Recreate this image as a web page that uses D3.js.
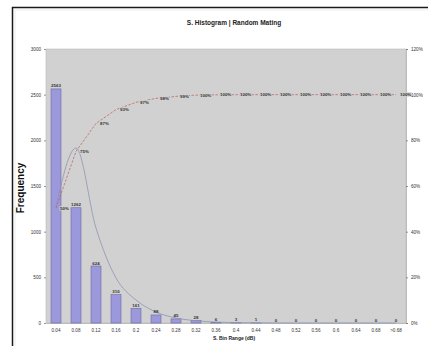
<!DOCTYPE html>
<html><head><meta charset="utf-8">
<script src="https://cdn.jsdelivr.net/npm/d3@7"></script>
<style>
body{margin:0;background:#fff;}
svg{font-family:Arial,"Liberation Sans",sans-serif;display:block;}
</style>
</head><body>
<svg id="chart" width="428" height="346"></svg>
<script>
const categories = ["0.04","0.08","0.12","0.16","0.2","0.24","0.28","0.32","0.36","0.4","0.44","0.48","0.52","0.56","0.6","0.64","0.68",">0.68"];
const frequencies = [2563,1262,624,310,161,88,45,28,6,3,1,0,0,0,0,0,0,0];
const trendValues = [1270,1916,1040,493,252,120,55,25,10,4,2,1,0,0,0,0,0,0];
const leftTicks = [0,500,1000,1500,2000,2500,3000];
const rightTicks = [0,0.2,0.4,0.6,0.8,1.0,1.2];
const titleText = "S. Histogram | Random Mating";
const xTitle = "S. Bin Range (dB)";
const yTitle = "Frequency";

const total = d3.sum(frequencies);
const cumulative = d3.cumsum(frequencies).map(v => v / total);

const svg = d3.select("#chart");
const plot = {left:46, right:406, top:49, bottom:323};

// frame
svg.append("rect").attr("x",12.5).attr("y",7.5).attr("width",440).attr("height",360)
  .attr("fill","#fff").attr("stroke","#1a1a1a").attr("stroke-width",1.5);
svg.append("rect").attr("x",15).attr("y",10).attr("width",440).attr("height",360)
  .attr("fill","none").attr("stroke","#eeeeee").attr("stroke-width",1);

const x = d3.scaleBand().domain(categories).range([plot.left, plot.right]).paddingInner(0.5).paddingOuter(0.25);
const y = d3.scaleLinear().domain([0,3000]).range([plot.bottom, plot.top]);
const y2 = d3.scaleLinear().domain([0,1.2]).range([plot.bottom, plot.top]);

// plot area
svg.append("rect").attr("x",plot.left).attr("y",plot.top)
  .attr("width",plot.right-plot.left).attr("height",plot.bottom-plot.top)
  .attr("fill","#d1d1d1").attr("stroke","#bdbdbd").attr("stroke-width",0.6);

// axes
const gl = svg.append("g").attr("transform",`translate(${plot.left},0)`)
  .call(d3.axisLeft(y).tickValues(leftTicks).tickSize(2).tickPadding(3).tickFormat(d3.format("d")));
const gr = svg.append("g").attr("transform",`translate(${plot.right},0)`)
  .call(d3.axisRight(y2).tickValues(rightTicks).tickSize(2).tickPadding(3).tickFormat(d3.format(".0%")));
const gx = svg.append("g").attr("transform",`translate(0,${plot.bottom})`)
  .call(d3.axisBottom(x).tickSize(0).tickPadding(6));
[gl,gr,gx].forEach(g=>{
  g.select(".domain").attr("stroke","#9a9a9a").attr("stroke-width",0.6);
  g.selectAll(".tick line").attr("stroke","#555").attr("stroke-width",0.6);
  g.selectAll("text").attr("font-size",4.6).attr("fill","#333");
});
gl.select(".domain").remove();

// bars
svg.append("g").selectAll("rect").data(frequencies).join("rect")
  .attr("x",(d,i)=>x(categories[i]))
  .attr("y",d=>y(d))
  .attr("width",x.bandwidth())
  .attr("height",d=>plot.bottom-y(d))
  .attr("fill","#9c98dc").attr("stroke","#6e6aa8").attr("stroke-width",0.6);

// trend line
const trendLine = d3.line().x((d,i)=>x(categories[i])+x.bandwidth()/2).y(d=>y(d)).curve(d3.curveMonotoneX);
svg.append("path").datum(trendValues).attr("d",trendLine)
  .attr("fill","none").attr("stroke","#8e94b4").attr("stroke-width",0.8);

// cumulative line
const cumLine = d3.line().x((d,i)=>x(categories[i])+x.bandwidth()/2).y(d=>y2(d));
svg.append("path").datum(cumulative).attr("d",cumLine)
  .attr("fill","none").attr("stroke","#b85a5a").attr("stroke-width",0.7).attr("stroke-dasharray","2.5,1.5");

// bar labels
svg.append("g").selectAll("text").data(frequencies).join("text")
  .attr("x",(d,i)=>x(categories[i])+x.bandwidth()/2)
  .attr("y",d=>y(d)-1.5)
  .attr("text-anchor","middle").attr("font-size",4.4).attr("font-weight","bold").attr("fill","#333")
  .text(d=>d);

// cumulative labels
svg.append("g").selectAll("text").data(cumulative).join("text")
  .attr("x",(d,i)=>x(categories[i])+x.bandwidth()/2+4)
  .attr("y",d=>y2(d)+1.6)
  .attr("font-size",4.4).attr("font-weight","bold").attr("fill","#333")
  .attr("stroke","#d1d1d1").attr("stroke-width",1.5).attr("paint-order","stroke")
  .text(d=>d3.format(".0%")(d));

// titles
svg.append("text").attr("x",234).attr("y",25).attr("text-anchor","middle")
  .attr("font-size",6.5).attr("font-weight","bold").attr("fill","#222").text(titleText);
svg.append("text").attr("x",234).attr("y",340).attr("text-anchor","middle")
  .attr("font-size",5).attr("font-weight","bold").attr("fill","#222").text(xTitle);
svg.append("text").attr("transform","translate(24,188) rotate(-90)").attr("text-anchor","middle")
  .attr("font-size",10).attr("font-weight","bold").attr("fill","#111").text(yTitle);
</script>
</body></html>
